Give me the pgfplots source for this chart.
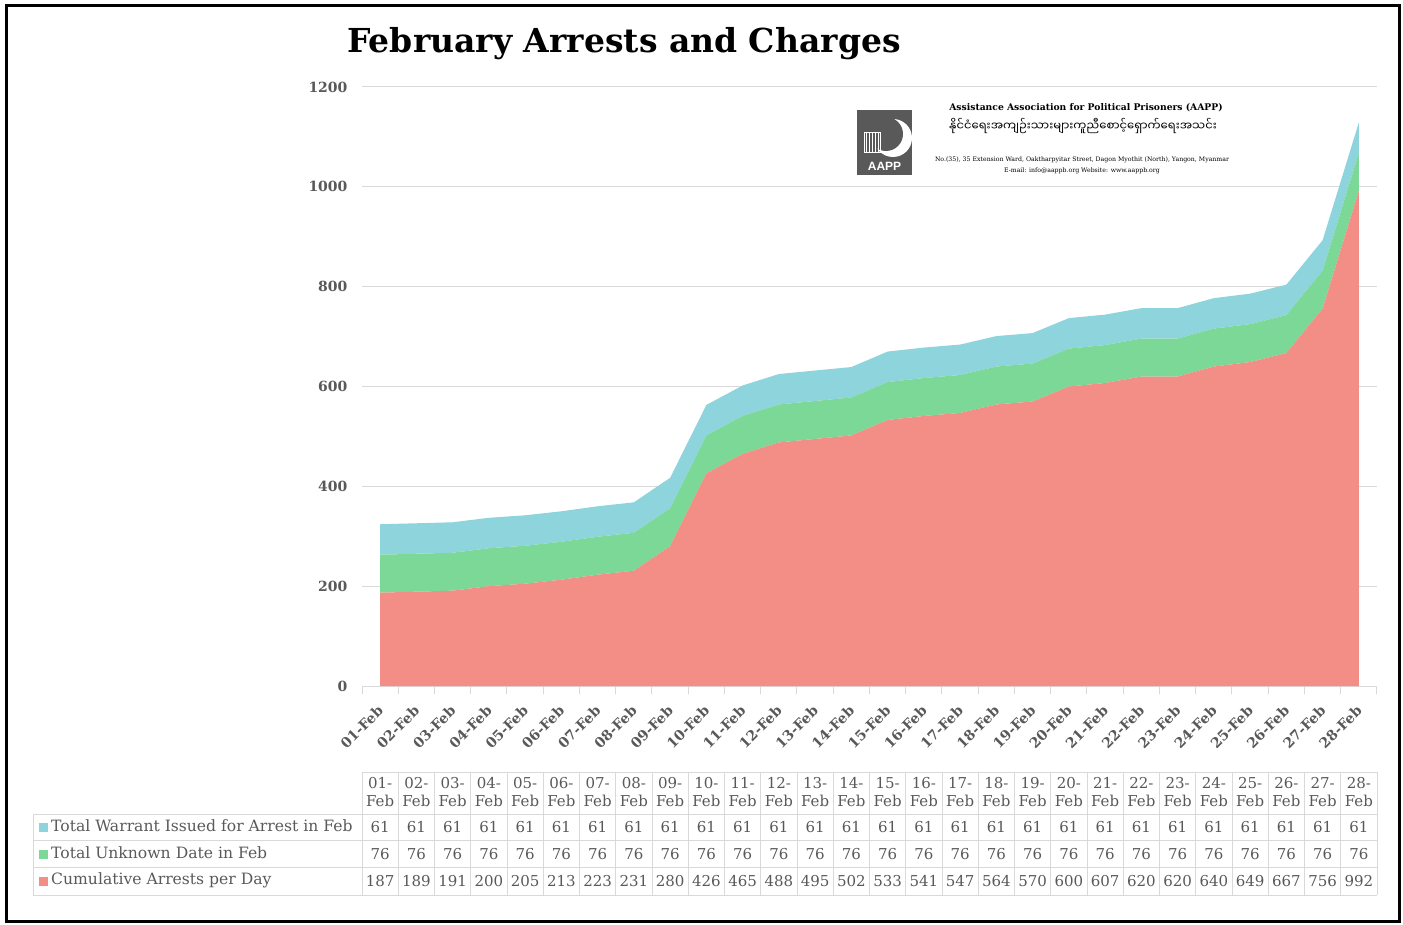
\documentclass[border=0pt]{standalone}
\usepackage{pgfplots}
\usepackage{pgfplotstable}
\pgfplotsset{compat=1.18}
\usepackage{fontspec}
\setmainfont{DejaVu Serif}
\newfontfamily\mmfont[Script=Myanmar]{Noto Sans Myanmar UI}
\newfontfamily\sansfont{Liberation Sans}
\definecolor{cred}{RGB}{242,142,134}
\definecolor{cgreen}{RGB}{124,216,150}
\definecolor{ccyan}{RGB}{142,212,220}
\definecolor{txt}{RGB}{89,89,89}
\definecolor{grid}{RGB}{217,217,217}
\pgfplotstableread{
x day cum unk war
1 01 187 76 61
2 02 189 76 61
3 03 191 76 61
4 04 200 76 61
5 05 205 76 61
6 06 213 76 61
7 07 223 76 61
8 08 231 76 61
9 09 280 76 61
10 10 426 76 61
11 11 465 76 61
12 12 488 76 61
13 13 495 76 61
14 14 502 76 61
15 15 533 76 61
16 16 541 76 61
17 17 547 76 61
18 18 564 76 61
19 19 570 76 61
20 20 600 76 61
21 21 607 76 61
22 22 620 76 61
23 23 620 76 61
24 24 640 76 61
25 25 649 76 61
26 26 667 76 61
27 27 756 76 61
28 28 992 76 61
}\datatable
\begin{document}
\begin{tikzpicture}[x=1pt,y=1pt]
\path (0,0) rectangle (1403,-925);
\draw[line width=3pt] (6,-6) rectangle (1399,-921);
\node[font=\bfseries\fontsize{33}{33}\selectfont] at (624,-44) {February Arrests and Charges};
\begin{axis}[
  at={(362pt,-686pt)}, anchor=south west,
  scale only axis, width=1015pt, height=599pt,
  xmin=0.5, xmax=28.5, ymin=0, ymax=1200,
  clip=false,
  stack plots=y,
  axis x line*=bottom, axis y line*=left,
  x axis line style={draw=grid, line width=1pt},
  y axis line style={draw=none},
  ytick={0,200,...,1200},
  ymajorgrids, grid style={draw=grid, line width=1pt},
  ytick style={draw=none},
  yticklabel style={font=\bfseries\fontsize{14}{14}\selectfont, text=txt, xshift=-11pt},
  xtick={1,...,28},
  xticklabels={01-Feb,02-Feb,03-Feb,04-Feb,05-Feb,06-Feb,07-Feb,08-Feb,09-Feb,10-Feb,11-Feb,12-Feb,13-Feb,14-Feb,15-Feb,16-Feb,17-Feb,18-Feb,19-Feb,20-Feb,21-Feb,22-Feb,23-Feb,24-Feb,25-Feb,26-Feb,27-Feb,28-Feb},
  major tick length=0pt,
  xticklabel style={font=\bfseries\fontsize{14}{14}\selectfont, text=txt, rotate=45, anchor=north east, yshift=-7pt, xshift=-12pt},
  minor xtick={0.5,1.5,...,28.5},
  minor tick length=8pt, tick align=outside,
  minor tick style={draw=grid, line width=1pt},
  scaled y ticks=false,
  /pgf/number format/.cd, 1000 sep={}, assume math mode=true,
]
\addplot[draw=none, fill=cred] table[x=x, y=cum] {\datatable} \closedcycle;
\addplot[draw=none, fill=cgreen] table[x=x, y=unk] {\datatable} \closedcycle;
\addplot[draw=none, fill=ccyan] table[x=x, y=war] {\datatable} \closedcycle;
% data table below chart
\addplot[stack plots=false, only marks, mark=none, point meta=explicit symbolic,
  nodes near coords={\pgfplotspointmeta-\\Feb}, nodes near coords align={anchor=center},
  every node near coord/.append style={font=\fontsize{15}{18}\selectfont, text=txt, align=center, inner sep=0pt}]
  table[x=x, y expr=-212.5, meta=day] {\datatable};
\addplot[stack plots=false, only marks, mark=none, point meta=explicit symbolic,
  nodes near coords, nodes near coords align={anchor=center},
  every node near coord/.append style={font=\fontsize{15}{15}\selectfont, text=txt, inner sep=0pt}]
  table[x=x, y expr=-282.5, meta=war] {\datatable};
\addplot[stack plots=false, only marks, mark=none, point meta=explicit symbolic,
  nodes near coords, nodes near coords align={anchor=center},
  every node near coord/.append style={font=\fontsize{15}{15}\selectfont, text=txt, inner sep=0pt}]
  table[x=x, y expr=-336.5, meta=unk] {\datatable};
\addplot[stack plots=false, only marks, mark=none, point meta=explicit symbolic,
  nodes near coords, nodes near coords align={anchor=center},
  every node near coord/.append style={font=\fontsize{15}{15}\selectfont, text=txt, inner sep=0pt}]
  table[x=x, y expr=-390.5, meta=cum] {\datatable};
\end{axis}
% table grid
\begin{scope}[draw=grid, line width=0.8pt]
\draw (362,-772) -- (1377,-772);
\foreach \y in {-814,-840,-867,-895} \draw (33,\y) -- (1377,\y);
\draw (33,-814) -- (33,-895);
\foreach \i in {0,...,28} \draw ({362+\i*36.25},-772) -- ({362+\i*36.25},-895);
\end{scope}
\begin{scope}[font=\fontsize{15.6}{15.6}\selectfont, text=txt]
\fill[ccyan] (39,-823) rectangle (48,-832);
\node[anchor=west, inner sep=0pt] at (51,-826) {Total Warrant Issued for Arrest in Feb};
\fill[cgreen] (39,-850) rectangle (48,-859);
\node[anchor=west, inner sep=0pt] at (51,-853) {Total Unknown Date in Feb};
\fill[cred] (39,-877) rectangle (48,-886);
\node[anchor=west, inner sep=0pt] at (51,-880) {Cumulative Arrests per Day};
\end{scope}
% logo block
\fill[white] (850,-96) rectangle (1240,-184);
\fill[black!65] (857,-110) rectangle (912,-175);
\fill[white] (893,-138) circle (19);
\fill[black!65] (886,-134) circle (17);
\node[text=white, font=\sansfont\bfseries\fontsize{12}{12}\selectfont, inner sep=0pt] at (884.5,-166) {AAPP};
\draw[white, line width=0.8pt] (864,-132) rectangle (880,-152);
\foreach \k in {866,869,...,878} \draw[white, line width=0.5pt] (\k,-132) -- (\k,-152);
\fill[white] (880,-106) -- (882,-110) -- (878,-110) -- cycle;
\node[font=\bfseries\fontsize{9.2}{9.2}\selectfont, inner sep=0pt] at (1086,-108) {Assistance Association for Political Prisoners (AAPP)};
\node[font=\mmfont\fontsize{11.6}{11.6}\selectfont, inner sep=0pt] at (1083,-126) {နိုင်ငံရေးအကျဉ်းသားများကူညီစောင့်ရှောက်ရေးအသင်း};
\node[font=\fontsize{6.2}{6.2}\selectfont, inner sep=0pt] at (1082,-160) {No.(35), 35 Extension Ward, Oaktharpyitar Street, Dagon Myothit (North), Yangon, Myanmar};
\node[font=\fontsize{6.2}{6.2}\selectfont, inner sep=0pt] at (1082,-171) {E-mail: info@aappb.org Website: www.aappb.org};
\end{tikzpicture}
\end{document}
